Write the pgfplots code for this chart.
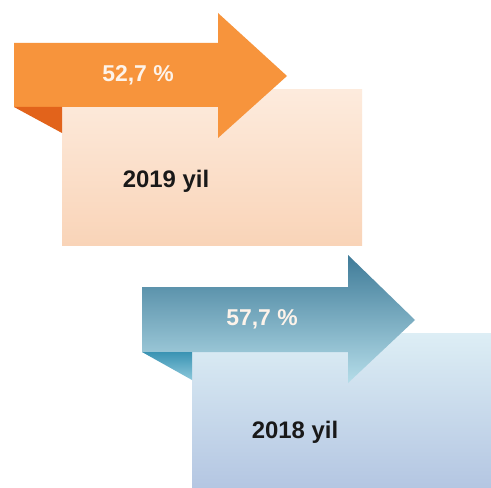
\documentclass[border=0pt]{standalone}
\usepackage{fontspec}
\setmainfont{Liberation Sans}
\usepackage{pgfplots}
\pgfplotsset{compat=1.18}

\definecolor{orArrow}{HTML}{F7943C}
\definecolor{orFold}{HTML}{E2631B}
\definecolor{orBoxTop}{HTML}{FDEBDD}
\definecolor{orBoxBot}{HTML}{F9D4B8}
\definecolor{blArrowTop}{HTML}{3F7B98}
\definecolor{blArrowBot}{HTML}{B5DDE9}
\definecolor{blFoldTop}{HTML}{3A93B3}
\definecolor{blFoldBot}{HTML}{8CC8DB}
\definecolor{blBoxTop}{HTML}{DDEEF5}
\definecolor{blBoxBot}{HTML}{B4C6E2}
\definecolor{pctText}{HTML}{FDF3EA}

\begin{document}
\begin{tikzpicture}
\begin{axis}[
    x=1bp, y=1bp,
    xmin=0, xmax=491, ymin=0, ymax=488,
    y dir=reverse,
    hide axis,
    clip=false,
    /pgf/number format/assume math mode=true,
]
% background, keeps the page size
\addplot[fill=white, draw=none] coordinates {(0,0) (491,0) (491,488) (0,488)} -- cycle;

% 2019: box, arrow, fold
\addplot[draw=none, top color=orBoxTop, bottom color=orBoxBot]
    coordinates {(62,90) (362,90) (362,245) (62,245)} -- cycle;
\addplot[draw=none, fill=orArrow]
    coordinates {(14,43) (218,43) (218,13) (287,76) (218,138) (218,107) (14,107)} -- cycle;
\addplot[draw=none, fill=orFold]
    coordinates {(14,107) (62,107) (62,133)} -- cycle;

% 2018: box, arrow, fold
\addplot[draw=none, top color=blBoxTop, bottom color=blBoxBot]
    coordinates {(192,333) (491,333) (491,488) (192,488)} -- cycle;
\addplot[draw=none, top color=blArrowTop, bottom color=blArrowBot]
    coordinates {(142,287) (348,287) (348,255) (415,320) (348,383) (348,352) (142,352)} -- cycle;
\addplot[draw=none, top color=blFoldTop, bottom color=blFoldBot]
    coordinates {(142,352) (192,352) (192,380)} -- cycle;

% shares
\addplot[draw=none, mark=none, point meta=explicit,
    nodes near coords={\pgfmathprintnumber[fixed,fixed zerofill,precision=1,use comma]{\pgfplotspointmeta}\ \%},
    nodes near coords align=center,
    every node near coord/.append style={text=pctText, font=\fontsize{23}{26}\selectfont\bfseries, anchor=center}]
    coordinates {(138,75) [52.7] (262,319) [57.7]};

% years
\addplot[draw=none, mark=none, point meta=explicit symbolic,
    nodes near coords={\pgfplotspointmeta\ yil},
    nodes near coords align=center,
    every node near coord/.append style={text=black!90, font=\fontsize{24}{27}\selectfont\bfseries, anchor=center}]
    coordinates {(166,181) [2019] (295,432) [2018]};
\end{axis}
\end{tikzpicture}
\end{document}
